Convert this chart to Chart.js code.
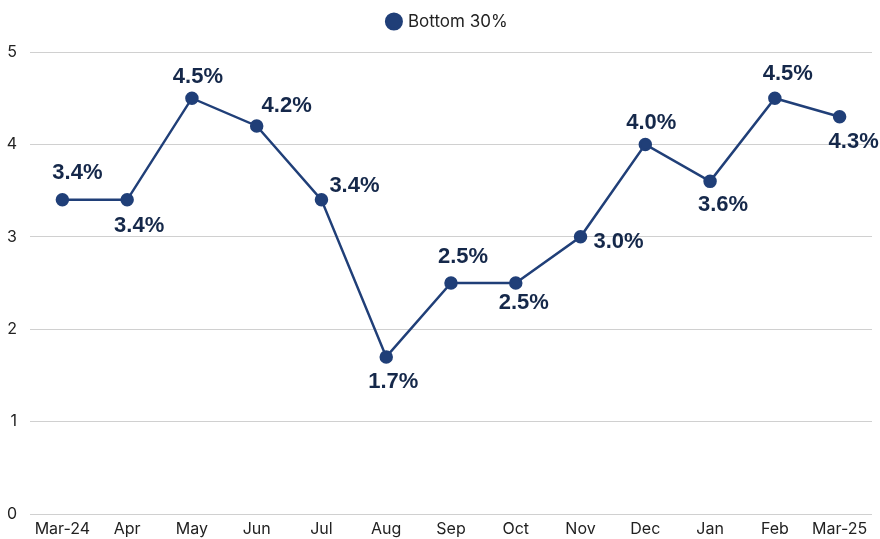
<!DOCTYPE html>
<html><head><meta charset="utf-8">
<script src="https://cdn.jsdelivr.net/npm/chart.js@4/dist/chart.umd.min.js"></script>
<style>html,body{margin:0;padding:0;background:#fff}#wrap{width:880px;height:539px}</style>
</head><body><div id="wrap"><canvas id="c" width="880" height="539"></canvas></div>
<script>
const categories = ['Mar-24','Apr','May','Jun','Jul','Aug','Sep','Oct','Nov','Dec','Jan','Feb','Mar-25'];
const bottom30 = [3.4,3.4,4.5,4.2,3.4,1.7,2.5,2.5,3.0,4.0,3.6,4.5,4.3];
const yTicks = [0,1,2,3,4,5];
// label offsets (pixels) relative to each point
const labelDx = [15,12,6,30,33,7,12,8,38,6,13,13,14];
const labelDy = [-27,26,-21,-20,-14,25,-26,20,5,-21,24,-24,25];

const navy = '#203f78';
const labelPlugin = {
  id:'pointLabels',
  afterDatasetsDraw(chart){
    const ctx = chart.ctx;
    const meta = chart.getDatasetMeta(0);
    ctx.save();
    ctx.font = 'bold 22px "Liberation Sans", Arial, sans-serif';
    ctx.fillStyle = '#15284a';
    ctx.textAlign = 'center';
    ctx.textBaseline = 'middle';
    meta.data.forEach((pt,i)=>{
      ctx.fillText(bottom30[i].toFixed(1)+'%', pt.x+labelDx[i], pt.y+labelDy[i]);
    });
    ctx.restore();
  }
};
const legendMargin = {
  id:'legendMargin',
  beforeInit(chart){
    const f = chart.legend.fit;
    chart.legend.fit = function(){ f.call(this); this.height += 12; };
  },
  afterLayout(chart){
    chart.legend.left += 9; chart.legend.right += 9;
  }
};

new Chart(document.getElementById('c'), {
  type:'line',
  data:{labels:categories, datasets:[{
    label:'Bottom 30%', data:bottom30, borderColor:navy, backgroundColor:navy,
    borderWidth:2.5, pointRadius:5.5, pointHoverRadius:5.5, pointBackgroundColor:navy, pointBorderColor:navy, tension:0
  }]},
  options:{
    responsive:false, animation:false, devicePixelRatio:1,
    layout:{padding:{top:3,right:2,left:0,bottom:0}},
    plugins:{
      legend:{position:'top', labels:{usePointStyle:true, pointStyle:'circle', boxWidth:11, boxHeight:11, color:'#222', font:{family:'Inter, sans-serif', size:17}, padding:10}},
      tooltip:{enabled:false}
    },
    scales:{
      x:{offset:true, grid:{display:false, drawTicks:false, tickLength:0}, border:{display:false},
         afterFit(ax){ax.height=25; ax.paddingLeft=0; ax.paddingRight=0;},
         ticks:{color:'#222', font:{family:'Inter, sans-serif', size:16}, padding:6, maxRotation:0, autoSkip:false}},
      y:{min:0,max:5, afterBuildTicks(ax){ax.ticks = yTicks.map(v=>({value:v}));},
         afterFit(ax){ax.width=30;},
         grid:{color:'#d0d0d0', lineWidth:1, drawTicks:false}, border:{display:false},
         ticks:{color:'#222', font:{family:'Inter, sans-serif', size:16}, padding:13}}
    }
  },
  plugins:[labelPlugin, legendMargin]
});
</script></body></html>
